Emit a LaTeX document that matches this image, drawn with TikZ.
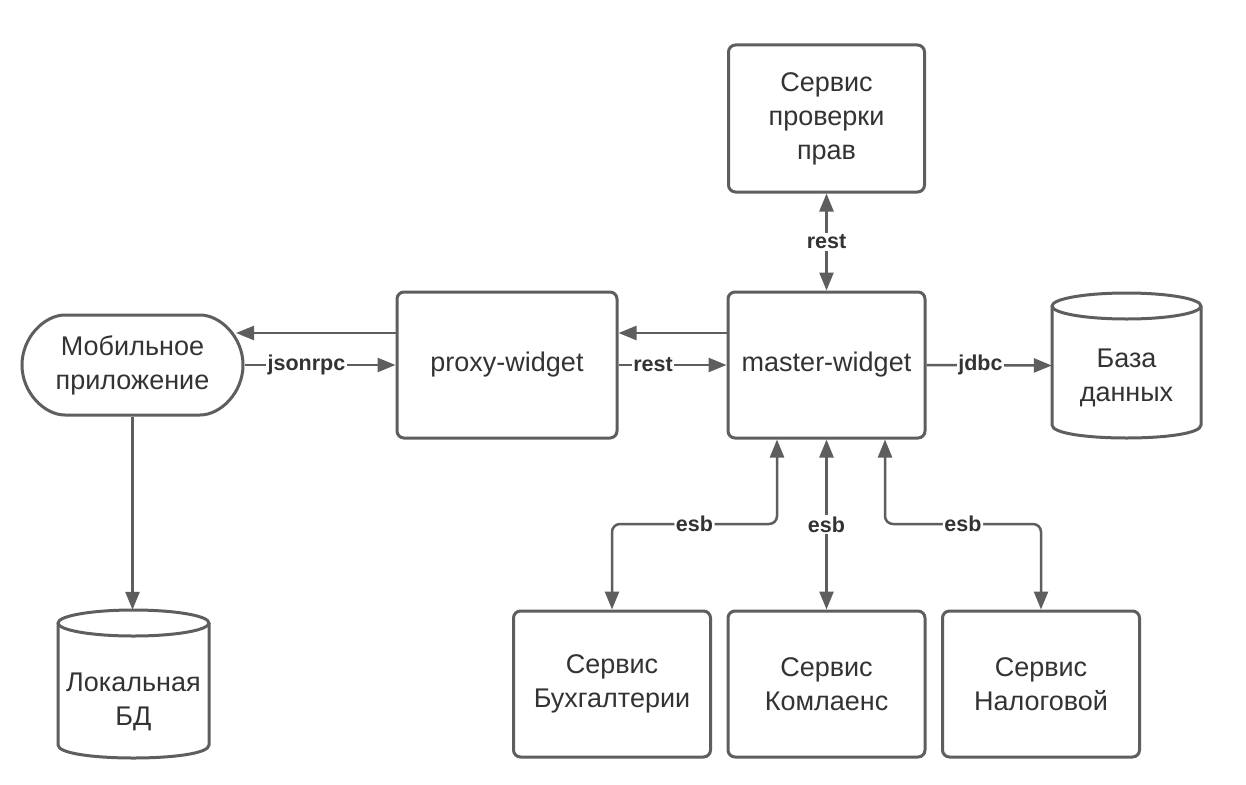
\documentclass[tikz,border=0pt]{standalone}
\usepackage{fontspec}
\setmainfont{Liberation Sans}
\usetikzlibrary{arrows.meta,shapes.misc}
\definecolor{ln}{HTML}{5E5E5E}
\definecolor{tx}{HTML}{333333}
\begin{document}
\begin{tikzpicture}[x=1pt,y=-1pt,
  box/.style={draw=ln, line width=3pt, rounded corners=7pt, fill=white, text=tx,
    font=\fontsize{27}{34}\selectfont, align=center, inner sep=0pt},
  plain/.style={text=tx, font=\fontsize{27}{34}\selectfont, align=center, inner sep=0pt},
  lbl/.style={fill=white, text=tx, font=\bfseries\fontsize{21.5}{24}\selectfont, inner sep=1.5pt},
  conn/.style={draw=ln, line width=2.5pt, -{Triangle[length=18pt,width=14pt]}},
  biconn/.style={draw=ln, line width=2.5pt, {Triangle[length=18pt,width=14pt]}-{Triangle[length=18pt,width=14pt]}},
  cyl/.style={draw=ln, line width=3pt, line join=round},
]
\useasboundingbox[fill=white] (0,0) rectangle (1246,784);

% nodes
\node[box, minimum width=196, minimum height=147] (perm) at (826.5,118.5) {Сервис\\проверки\\прав};
\node[box, minimum width=220, minimum height=146] (proxy) at (507,365) {proxy-widget};
\node[box, minimum width=197, minimum height=146] (master) at (826.5,365) {master-widget};
\node[box, rounded rectangle, minimum width=221, minimum height=100] (mob) at (132.5,365) {Мобильное\\приложение};
\node[box, minimum width=197, minimum height=146] (acc) at (612,684) {Сервис\\Бухгалтерии};
\node[box, minimum width=197, minimum height=146] (comp) at (826.5,684) {Сервис\\Комлаенс};
\node[box, minimum width=197, minimum height=146] (tax) at (1041,684) {Сервис\\Налоговой};

% cylinders
\node[inner sep=0pt, minimum width=149, minimum height=145] (db) at (1126.5,365.5) {};
\draw[cyl] (1052,306) -- (1052,425) .. controls (1052,442.33) and (1201,442.33) .. (1201,425) -- (1201,306);
\draw[cyl] (1126.5,306) ellipse [x radius=74.5, y radius=13];
\node[plain] (dbt) at (1126.5,378) {База\\данных};

\node[inner sep=0pt, minimum width=151, minimum height=148] (ldb) at (133.5,684) {};
\draw[cyl] (58,623) -- (58,745) .. controls (58,762.33) and (209,762.33) .. (209,745) -- (209,623);
\draw[cyl] (133.5,623) ellipse [x radius=75.5, y radius=13];
\node[plain] (ldbt) at (133.5,702) {Локальная\\БД};

% helper coordinates
\coordinate (y1) at (0,333);
\coordinate (hy) at (0,524);
\coordinate (lx) at (777,0);
\coordinate (rx) at (885,0);
\coordinate (mobtip) at (236,333);

% connectors
\draw[conn] (proxy.west |- y1) -- (mobtip);
\draw[conn] (mob.east) -- node[lbl, pos=0.41]{jsonrpc} (proxy.west);
\draw[conn] (master.west |- y1) -- (proxy.east |- y1);
\draw[conn] (proxy.east) -- node[lbl, pos=0.32]{rest} (master.west);
\draw[conn] (master.east) -- node[lbl, pos=0.43]{jdbc} (db.west);
\draw[conn] (mob.south) -- (mob.south |- ldb.north);
\draw[biconn] (master.north) -- node[lbl]{rest} (perm.south);

\draw[biconn, rounded corners=8pt] (master.south -| lx) -- (lx |- hy) -- node[lbl]{esb} (acc.north |- hy) -- (acc.north);
\draw[biconn] (master.south) -- node[lbl]{esb} (comp.north);
\draw[biconn, rounded corners=8pt] (master.south -| rx) -- (rx |- hy) -- node[lbl]{esb} (tax.north |- hy) -- (tax.north);
\end{tikzpicture}
\end{document}
